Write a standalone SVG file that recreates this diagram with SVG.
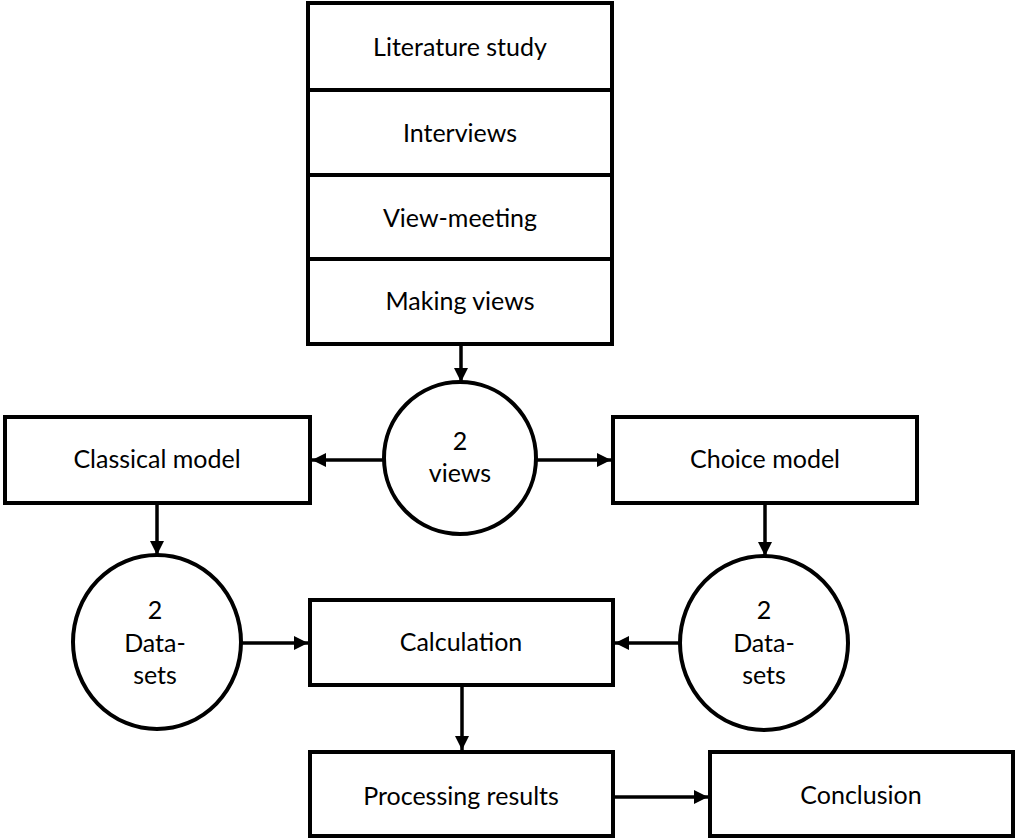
<svg xmlns="http://www.w3.org/2000/svg" width="1015" height="839" viewBox="0 0 1015 839">
  <style>
    .box { fill: #fff; stroke: #000; stroke-width: 4; }
    .div { stroke: #000; stroke-width: 4; }
    .lbl { font-family: Lato, "Open Sans", "Liberation Sans", sans-serif; font-size: 25px; fill: #000; text-anchor: middle; }
    .conn { stroke: #000; stroke-width: 3.5; fill: none; marker-end: url(#arrow); }
  </style>
  <defs>
    <marker id="arrow" markerUnits="userSpaceOnUse" markerWidth="16" markerHeight="16" viewBox="0 0 16 16" refX="15" refY="8" orient="auto">
      <path d="M1,1 L15,8 L1,15 Z" fill="#000"/>
    </marker>
  </defs>

  <rect width="1015" height="839" fill="#fff"/>

  <!-- stacked research steps -->
  <g id="steps">
    <rect class="box" x="308" y="3" width="304" height="341"/>
    <line class="div" x1="308" y1="90" x2="612" y2="90"/>
    <line class="div" x1="308" y1="175" x2="612" y2="175"/>
    <line class="div" x1="308" y1="259" x2="612" y2="259"/>
    <text class="lbl" x="460" y="56">Literature study</text>
    <text class="lbl" x="460" y="142">Interviews</text>
    <text class="lbl" x="460" y="227">View-meeting</text>
    <text class="lbl" x="460" y="310">Making views</text>
  </g>

  <g id="views">
    <ellipse class="box" cx="460" cy="458" rx="76" ry="76"/>
    <text class="lbl" x="460" y="450">2</text>
    <text class="lbl" x="460" y="482">views</text>
  </g>

  <g id="classical-model">
    <rect class="box" x="5" y="417" width="305" height="86"/>
    <text class="lbl" x="157" y="468">Classical model</text>
  </g>

  <g id="choice-model">
    <rect class="box" x="613" y="417" width="304" height="86"/>
    <text class="lbl" x="765" y="468">Choice model</text>
  </g>

  <g id="datasets-left">
    <ellipse class="box" cx="157" cy="642" rx="84" ry="87"/>
    <text class="lbl" x="155" y="619">2</text>
    <text class="lbl" x="155" y="652">Data-</text>
    <text class="lbl" x="155" y="684">sets</text>
  </g>

  <g id="datasets-right">
    <ellipse class="box" cx="764" cy="643" rx="84" ry="87"/>
    <text class="lbl" x="764" y="619">2</text>
    <text class="lbl" x="764" y="652">Data-</text>
    <text class="lbl" x="764" y="684">sets</text>
  </g>

  <g id="calculation">
    <rect class="box" x="310" y="600" width="303" height="85"/>
    <text class="lbl" x="461" y="651">Calculation</text>
  </g>

  <g id="processing-results">
    <rect class="box" x="310" y="752" width="303" height="84"/>
    <text class="lbl" x="461" y="805">Processing results</text>
  </g>

  <g id="conclusion">
    <rect class="box" x="710" y="752" width="303" height="84"/>
    <text class="lbl" x="861" y="804">Conclusion</text>
  </g>

  <g id="connectors">
    <line class="conn" x1="461" y1="346" x2="461" y2="382"/>
    <line class="conn" x1="384" y1="460" x2="312" y2="460"/>
    <line class="conn" x1="536" y1="460" x2="611" y2="460"/>
    <line class="conn" x1="157" y1="505" x2="157" y2="555"/>
    <line class="conn" x1="765" y1="505" x2="765" y2="556"/>
    <line class="conn" x1="241" y1="643" x2="308" y2="643"/>
    <line class="conn" x1="680" y1="643" x2="615" y2="643"/>
    <line class="conn" x1="462" y1="687" x2="462" y2="750"/>
    <line class="conn" x1="615" y1="797" x2="708" y2="797"/>
  </g>
</svg>
